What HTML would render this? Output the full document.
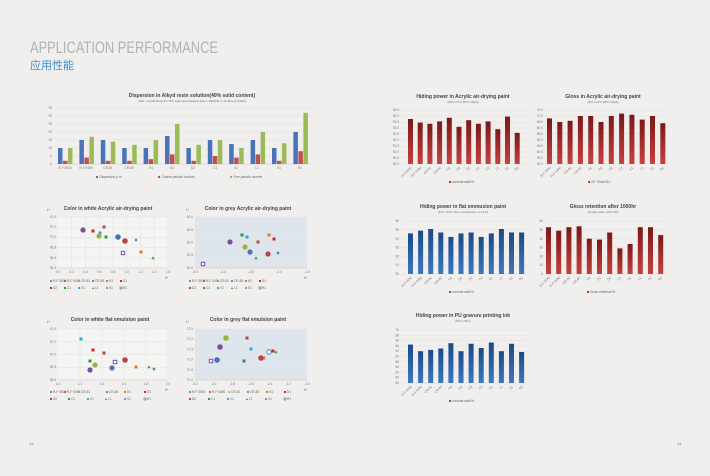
<!DOCTYPE html>
<html><head><meta charset="utf-8"><style>
html,body{margin:0;padding:0;background:#f0efed;}
svg{display:block;font-family:"Liberation Sans","Noto Sans CJK SC",sans-serif;}
.t{font-size:5px;font-weight:bold;fill:#444;text-anchor:middle}
.s{font-size:3px;fill:#666;text-anchor:middle;font-family:"Liberation Serif",serif}
.a{font-size:3.2px;fill:#777;text-anchor:end}
.x{font-size:3.2px;fill:#777;text-anchor:middle}
.l{font-size:3.2px;fill:#666}
.g{stroke:#dcdcdc;stroke-width:0.4}
</style></head><body>
<svg width="710" height="476" viewBox="0 0 710 476" xmlns="http://www.w3.org/2000/svg">
<defs>
<linearGradient id="rg" x1="0" y1="0" x2="0" y2="1"><stop offset="0" stop-color="#c8403c"/><stop offset="1" stop-color="#7a1818"/></linearGradient>
<linearGradient id="bg" x1="0" y1="0" x2="0" y2="1"><stop offset="0" stop-color="#3a78bf"/><stop offset="1" stop-color="#1c4a85"/></linearGradient>
</defs>
<rect width="710" height="476" fill="#f0efed"/>
<text x="30" y="53" font-size="17" fill="#b2b2b2" textLength="188" lengthAdjust="spacingAndGlyphs">APPLICATION PERFORMANCE</text>
<text x="30" y="69" font-size="11" fill="#3a8fd0">应用性能</text>
<text x="29" y="445" font-size="4" fill="#777">13</text>
<text x="677" y="445" font-size="4" fill="#777">14</text>

<!-- Dispersion chart -->
<text class="t" x="192" y="97" font-size="5.5">Dispersion in Alkyd resin solution(40% solid content)</text>
<text class="s" x="192" y="102">(TiO₂ concentration: 65~76%, high-speed disperse mixer: 4000rpm or 10.5m/s @ 10min)</text>
<g class="g">
<line x1="55" x2="312" y1="108" y2="108"/><line x1="55" x2="312" y1="116" y2="116"/><line x1="55" x2="312" y1="124" y2="124"/><line x1="55" x2="312" y1="132" y2="132"/><line x1="55" x2="312" y1="140" y2="140"/><line x1="55" x2="312" y1="148" y2="148"/><line x1="55" x2="312" y1="156" y2="156"/><line x1="55" x2="312" y1="164" y2="164" stroke="#bbb"/>
</g>
<g class="a"><text x="52" y="109">35</text><text x="52" y="117">30</text><text x="52" y="125">25</text><text x="52" y="133">20</text><text x="52" y="141">15</text><text x="52" y="149">10</text><text x="52" y="157">5</text><text x="52" y="165">0</text></g>
<g transform="translate(0,164) scale(1,-1)">
<g fill="#4a72b8"><rect x="58" width="4.5" height="16"/><rect x="79.4" width="4.5" height="24"/><rect x="100.8" width="4.5" height="24"/><rect x="122.2" width="4.5" height="16"/><rect x="143.6" width="4.5" height="16"/><rect x="165" width="4.5" height="28"/><rect x="186.4" width="4.5" height="16"/><rect x="207.8" width="4.5" height="24"/><rect x="229.2" width="4.5" height="20"/><rect x="250.6" width="4.5" height="24"/><rect x="272" width="4.5" height="16"/><rect x="293.4" width="4.5" height="32"/></g>
<g fill="#c0504d"><rect x="63" width="4.5" height="3.2"/><rect x="84.4" width="4.5" height="6.4"/><rect x="105.8" width="4.5" height="3.2"/><rect x="127.2" width="4.5" height="3.2"/><rect x="148.6" width="4.5" height="4.8"/><rect x="170" width="4.5" height="9.6"/><rect x="191.4" width="4.5" height="3.2"/><rect x="212.8" width="4.5" height="8"/><rect x="234.2" width="4.5" height="6.4"/><rect x="255.6" width="4.5" height="9.6"/><rect x="277" width="4.5" height="3.2"/><rect x="298.4" width="4.5" height="12.8"/></g>
<g fill="#9bbb59"><rect x="68" width="4.5" height="16"/><rect x="89.4" width="4.5" height="27.2"/><rect x="110.8" width="4.5" height="22.4"/><rect x="132.2" width="4.5" height="19.2"/><rect x="153.6" width="4.5" height="24"/><rect x="175" width="4.5" height="40"/><rect x="196.4" width="4.5" height="19.2"/><rect x="217.8" width="4.5" height="24"/><rect x="239.2" width="4.5" height="16"/><rect x="260.6" width="4.5" height="32"/><rect x="282" width="4.5" height="20.8"/><rect x="303.4" width="4.5" height="51.2"/></g>
</g>
<g class="x"><text x="65" y="169">R-F 5500</text><text x="86" y="169">R-F 5490</text><text x="108" y="169">CR-81</text><text x="129" y="169">CR-85</text><text x="151" y="169">H1</text><text x="172" y="169">D1</text><text x="193" y="169">D2</text><text x="215" y="169">C1</text><text x="236" y="169">X1</text><text x="257" y="169">L1</text><text x="279" y="169">S1</text><text x="300" y="169">R1</text></g>
<rect x="96" y="176" width="2" height="2" fill="#4a72b8"/><text class="l" x="99.5" y="178">Dispersion/ μ m</text>
<rect x="158" y="176" width="2" height="2" fill="#c0504d"/><text class="l" x="161.5" y="178">Coarse particle number</text>
<rect x="230" y="176" width="2" height="2" fill="#9bbb59"/><text class="l" x="233.5" y="178">Fine particle number</text>

<!-- Scatter: white acrylic -->
<text class="t" x="108" y="210" font-size="4.6">Color in white Acrylic air-drying paint</text>
<rect x="58" y="217" width="110" height="51" fill="#f4f4f2"/>
<g class="g"><line x1="58" x2="168" y1="217" y2="217"/><line x1="58" x2="168" y1="227.2" y2="227.2"/><line x1="58" x2="168" y1="237.4" y2="237.4"/><line x1="58" x2="168" y1="247.6" y2="247.6"/><line x1="58" x2="168" y1="257.8" y2="257.8"/><line x1="58" x2="168" y1="268" y2="268" stroke="#bbb"/>
<line x1="71.75" x2="71.75" y1="217" y2="268"/><line x1="85.5" x2="85.5" y1="217" y2="268"/><line x1="99.25" x2="99.25" y1="217" y2="268"/><line x1="113" x2="113" y1="217" y2="268"/><line x1="126.75" x2="126.75" y1="217" y2="268"/><line x1="140.5" x2="140.5" y1="217" y2="268"/><line x1="154.25" x2="154.25" y1="217" y2="268"/><line x1="168" x2="168" y1="217" y2="268"/></g>
<text class="l" x="47" y="211">L*</text>
<g class="a"><text x="56" y="218">97.4</text><text x="56" y="228">97.2</text><text x="56" y="238">97.0</text><text x="56" y="248.5">96.8</text><text x="56" y="259">96.6</text><text x="56" y="269">96.4</text></g>
<g class="x"><text x="58" y="273">0.0</text><text x="71.75" y="273">0.2</text><text x="85.5" y="273">0.4</text><text x="99.25" y="273">0.6</text><text x="113" y="273">0.8</text><text x="126.75" y="273">1.0</text><text x="140.5" y="273">1.2</text><text x="154.25" y="273">1.4</text><text x="168" y="273">1.6</text></g>
<text class="l" x="165" y="279">b*</text>
<circle cx="83" cy="230" r="2.6" fill="#7a4ea0"/><rect x="91.5" y="229.5" width="3" height="3" fill="#e02020"/><rect x="102.5" y="225.5" width="3" height="3" fill="#b84444"/><rect x="98.5" y="231.5" width="3" height="3" fill="#2aa8e0"/><circle cx="99" cy="236" r="2.6" fill="#9bb040"/><rect x="104.5" y="235.5" width="3" height="3" fill="#2a9a40"/><circle cx="118" cy="237" r="2.8" fill="#4a72b8"/><circle cx="125" cy="241" r="2.8" fill="#b84444"/><path d="M136 238.3L137.7 240L136 241.7L134.3 240Z" fill="#4a80c8"/><rect x="121.3" y="251.3" width="3.4" height="3.4" fill="#fff" stroke="#7a4ea0" stroke-width="1"/><rect x="139.5" y="250.5" width="3" height="3" fill="#e07a20"/><path d="M153 256.3L154.7 259.3L151.3 259.3Z" fill="#3aa84a"/>

<!-- Scatter: grey acrylic -->
<text class="t" x="248" y="210" font-size="4.6">Color in grey Acrylic air-drying paint</text>
<rect x="195" y="217" width="112" height="51" fill="#dfe5ec"/>
<g class="g" stroke="#cfd6de"><line x1="195" x2="307" y1="217" y2="217"/><line x1="195" x2="307" y1="229.75" y2="229.75"/><line x1="195" x2="307" y1="242.5" y2="242.5"/><line x1="195" x2="307" y1="255.25" y2="255.25"/><line x1="195" x2="307" y1="268" y2="268" stroke="#bbb"/></g>
<text class="l" x="186" y="211">L*</text>
<g class="a"><text x="193" y="218">64.0</text><text x="193" y="231">63.5</text><text x="193" y="243.5">63.0</text><text x="193" y="256">62.5</text><text x="193" y="269">62.0</text></g>
<g class="x"><text x="195" y="273">-3.5</text><text x="223" y="273">-3.0</text><text x="251" y="273">-2.5</text><text x="279" y="273">-2.0</text><text x="307" y="273">-1.5</text></g>
<text class="l" x="304" y="279">b*</text>
<rect x="201.3" y="262.3" width="3.4" height="3.4" fill="#fff" stroke="#7a4ea0" stroke-width="1"/><circle cx="230" cy="242" r="2.6" fill="#7a4ea0"/><rect x="240.5" y="233.5" width="3" height="3" fill="#2a9a40"/><rect x="245.5" y="235.5" width="3" height="3" fill="#2aa8e0"/><circle cx="245" cy="247" r="2.6" fill="#9bb040"/><circle cx="250" cy="252" r="2.6" fill="#4a72b8"/><path d="M256 256.3L257.7 259.3L254.3 259.3Z" fill="#3aa84a"/><rect x="256.5" y="240.5" width="3" height="3" fill="#b84444"/><rect x="267.5" y="233.5" width="3" height="3" fill="#e07a20"/><rect x="272.5" y="237.5" width="3" height="3" fill="#e02020"/><circle cx="268" cy="254" r="2.6" fill="#b84444"/><path d="M278 251.3L279.7 253L278 254.7L276.3 253Z" fill="#4a80c8"/>

<!-- legends acrylic -->
<g class="l">
<circle cx="51" cy="281" r="1" fill="#4a72b8"/><text x="53" y="282">R-F 5500</text>
<circle cx="65" cy="281" r="1" fill="#b84444"/><text x="67" y="282">R-F 5490</text>
<circle cx="79" cy="281" r="1" fill="#9bb040"/><text x="81" y="282">CR-81</text>
<circle cx="93" cy="281" r="1" fill="#7a4ea0"/><text x="95" y="282">CR-85</text>
<rect x="106" y="280" width="2" height="2" fill="#e07a20"/><text x="109" y="282">H1</text>
<rect x="120" y="280" width="2" height="2" fill="#e02020"/><text x="123" y="282">D1</text>
<rect x="50" y="287" width="2" height="2" fill="#b84444"/><text x="53" y="289">D2</text>
<rect x="64" y="287" width="2" height="2" fill="#2a9a40"/><text x="67" y="289">C1</text>
<rect x="78" y="287" width="2" height="2" fill="#2aa8e0"/><text x="81" y="289">X1</text>
<path d="M93 287L94.2 289L91.8 289Z" fill="#3aa84a"/><text x="95" y="289">L1</text>
<circle cx="107" cy="288" r="1" fill="#4a80c8"/><text x="109" y="289">S1</text>
<rect x="120" y="287" width="2" height="2" fill="none" stroke="#7a4ea0" stroke-width="0.6"/><text x="123" y="289">R1</text>
<circle cx="190" cy="281" r="1" fill="#4a72b8"/><text x="192" y="282">R-F 5500</text>
<circle cx="204" cy="281" r="1" fill="#b84444"/><text x="206" y="282">R-F 5490</text>
<circle cx="218" cy="281" r="1" fill="#9bb040"/><text x="220" y="282">CR-81</text>
<circle cx="232" cy="281" r="1" fill="#7a4ea0"/><text x="234" y="282">CR-85</text>
<rect x="245" y="280" width="2" height="2" fill="#e07a20"/><text x="248" y="282">H1</text>
<rect x="259" y="280" width="2" height="2" fill="#e02020"/><text x="262" y="282">D1</text>
<rect x="189" y="287" width="2" height="2" fill="#b84444"/><text x="192" y="289">D2</text>
<rect x="203" y="287" width="2" height="2" fill="#2a9a40"/><text x="206" y="289">C1</text>
<rect x="217" y="287" width="2" height="2" fill="#2aa8e0"/><text x="220" y="289">X1</text>
<path d="M232 287L233.2 289L230.8 289Z" fill="#3aa84a"/><text x="234" y="289">L1</text>
<circle cx="246" cy="288" r="1" fill="#4a80c8"/><text x="248" y="289">S1</text>
<rect x="259" y="287" width="2" height="2" fill="none" stroke="#7a4ea0" stroke-width="0.6"/><text x="262" y="289">R1</text>
</g>

<!-- Scatter: white flat -->
<text class="t" x="110" y="321" font-size="4.6">Color in white flat emulsion paint</text>
<rect x="58" y="329" width="110" height="51" fill="#f4f4f2"/>
<g class="g"><line x1="58" x2="168" y1="329" y2="329"/><line x1="58" x2="168" y1="341.75" y2="341.75"/><line x1="58" x2="168" y1="354.5" y2="354.5"/><line x1="58" x2="168" y1="367.25" y2="367.25"/><line x1="58" x2="168" y1="380" y2="380" stroke="#bbb"/>
<line x1="80" x2="80" y1="329" y2="380"/><line x1="102" x2="102" y1="329" y2="380"/><line x1="124" x2="124" y1="329" y2="380"/><line x1="146" x2="146" y1="329" y2="380"/><line x1="168" x2="168" y1="329" y2="380"/></g>
<text class="l" x="47" y="323">L*</text>
<g class="a"><text x="56" y="330">97.4</text><text x="56" y="343">97.2</text><text x="56" y="355.5">97.0</text><text x="56" y="368">96.8</text><text x="56" y="381">96.6</text></g>
<g class="x"><text x="58" y="385">1.0</text><text x="80" y="385">1.2</text><text x="102" y="385">1.4</text><text x="124" y="385">1.6</text><text x="146" y="385">1.8</text><text x="168" y="385">2.0</text></g>
<text class="l" x="165" y="391">b*</text>
<rect x="79.5" y="337.5" width="3" height="3" fill="#2aa8e0"/><rect x="91.5" y="348.5" width="3" height="3" fill="#e02020"/><rect x="102.5" y="351.5" width="3" height="3" fill="#b84444"/><rect x="88.5" y="359.5" width="3" height="3" fill="#2a9a40"/><circle cx="95" cy="365" r="2.6" fill="#9bb040"/><circle cx="90" cy="370" r="2.6" fill="#7a4ea0"/><rect x="113.3" y="360.3" width="3.4" height="3.4" fill="#fff" stroke="#7a4ea0" stroke-width="1"/><circle cx="125" cy="360" r="2.8" fill="#b84444"/><circle cx="112" cy="368" r="2.6" fill="#4a72b8"/><rect x="134.5" y="365.5" width="3" height="3" fill="#e07a20"/><path d="M149 365.3L150.7 368.3L147.3 368.3Z" fill="#3aa84a"/><path d="M154 367.3L155.7 369L154 370.7L152.3 369Z" fill="#4a80c8"/>

<!-- Scatter: grey flat -->
<text class="t" x="248" y="321" font-size="4.6">Color in grey flat emulsion paint</text>
<rect x="195" y="329" width="112" height="51" fill="#dfe5ec"/>
<g class="g" stroke="#cfd6de"><line x1="195" x2="307" y1="329" y2="329"/><line x1="195" x2="307" y1="339.2" y2="339.2"/><line x1="195" x2="307" y1="349.4" y2="349.4"/><line x1="195" x2="307" y1="359.6" y2="359.6"/><line x1="195" x2="307" y1="369.8" y2="369.8"/><line x1="195" x2="307" y1="380" y2="380" stroke="#bbb"/></g>
<text class="l" x="186" y="323">L*</text>
<g class="a"><text x="193" y="330">72.5</text><text x="193" y="340">72.0</text><text x="193" y="350.5">71.5</text><text x="193" y="360.5">71.0</text><text x="193" y="371">70.5</text><text x="193" y="381">70.0</text></g>
<g class="x"><text x="195" y="385">-3.2</text><text x="213.7" y="385">-3.0</text><text x="232.3" y="385">-2.8</text><text x="251" y="385">-2.6</text><text x="269.7" y="385">-2.4</text><text x="288.3" y="385">-2.2</text><text x="307" y="385">-2.0</text></g>
<text class="l" x="304" y="391">b*</text>
<circle cx="226" cy="338" r="2.8" fill="#9bb040"/><rect x="245.5" y="336.5" width="3" height="3" fill="#b84444"/><circle cx="220" cy="347" r="2.8" fill="#7a4ea0"/><rect x="249.5" y="347.5" width="3" height="3" fill="#2aa8e0"/><circle cx="269" cy="352" r="2.2" fill="#fff" stroke="#4a80c8" stroke-width="1"/><rect x="271.5" y="349.5" width="3" height="3" fill="#e02020"/><path d="M276 350.3L277.7 353.3L274.3 353.3Z" fill="#3aa84a"/><rect x="262.5" y="356.5" width="3" height="3" fill="#e07a20"/><circle cx="261" cy="358" r="2.8" fill="#b84444"/><rect x="242.5" y="359.5" width="3" height="3" fill="#2a9a40"/><circle cx="217" cy="360" r="2.8" fill="#4a72b8"/><rect x="209.3" y="359.3" width="3.4" height="3.4" fill="#fff" stroke="#7a4ea0" stroke-width="1"/>

<g class="l">
<circle cx="51" cy="392" r="1" fill="#4a72b8"/><text x="53" y="393">R-F 5500</text>
<circle cx="65" cy="392" r="1" fill="#b84444"/><text x="67" y="393">R-F 5490</text>
<circle cx="79" cy="392" r="1" fill="#9bb040"/><text x="81" y="393">CR-81</text>
<circle cx="107" cy="392" r="1" fill="#7a4ea0"/><text x="109" y="393">CR-85</text>
<rect x="124" y="391" width="2" height="2" fill="#e07a20"/><text x="127" y="393">H1</text>
<rect x="144" y="391" width="2" height="2" fill="#e02020"/><text x="147" y="393">D1</text>
<rect x="50" y="398" width="2" height="2" fill="#b84444"/><text x="53" y="400">D2</text>
<rect x="68" y="398" width="2" height="2" fill="#2a9a40"/><text x="71" y="400">C1</text>
<rect x="87" y="398" width="2" height="2" fill="#2aa8e0"/><text x="90" y="400">X1</text>
<path d="M106 398L107.2 400L104.8 400Z" fill="#3aa84a"/><text x="108" y="400">L1</text>
<circle cx="125" cy="399" r="1" fill="#4a80c8"/><text x="127" y="400">S1</text>
<rect x="144" y="398" width="2" height="2" fill="none" stroke="#7a4ea0" stroke-width="0.6"/><text x="147" y="400">R1</text>
<circle cx="190" cy="392" r="1" fill="#4a72b8"/><text x="192" y="393">R-F 5500</text>
<circle cx="210" cy="392" r="1" fill="#b84444"/><text x="212" y="393">R-F 5490</text>
<circle cx="229" cy="392" r="1" fill="#9bb040"/><text x="231" y="393">CR-81</text>
<circle cx="248" cy="392" r="1" fill="#7a4ea0"/><text x="250" y="393">CR-85</text>
<rect x="266" y="391" width="2" height="2" fill="#e07a20"/><text x="269" y="393">H1</text>
<rect x="284" y="391" width="2" height="2" fill="#e02020"/><text x="287" y="393">D1</text>
<rect x="189" y="398" width="2" height="2" fill="#b84444"/><text x="192" y="400">D2</text>
<rect x="208" y="398" width="2" height="2" fill="#2a9a40"/><text x="211" y="400">C1</text>
<rect x="227" y="398" width="2" height="2" fill="#2aa8e0"/><text x="230" y="400">X1</text>
<path d="M247 398L248.2 400L245.8 400Z" fill="#3aa84a"/><text x="249" y="400">L1</text>
<circle cx="266" cy="399" r="1" fill="#4a80c8"/><text x="268" y="400">S1</text>
<rect x="284" y="398" width="2" height="2" fill="none" stroke="#7a4ea0" stroke-width="0.6"/><text x="287" y="400">R1</text>
</g>

<!-- Right page: Hiding acrylic -->
<text class="t" x="463" y="98">Hiding power in Acrylic air-drying paint</text>
<text class="s" x="463" y="103">(PVC=15%, DFT=18μm)</text>
<g class="g"><line x1="401" x2="527" y1="110" y2="110"/><line x1="401" x2="527" y1="116" y2="116"/><line x1="401" x2="527" y1="122" y2="122"/><line x1="401" x2="527" y1="128" y2="128"/><line x1="401" x2="527" y1="134" y2="134"/><line x1="401" x2="527" y1="140" y2="140"/><line x1="401" x2="527" y1="146" y2="146"/><line x1="401" x2="527" y1="152" y2="152"/><line x1="401" x2="527" y1="158" y2="158"/><line x1="401" x2="527" y1="164" y2="164"/></g>
<g class="a"><text x="399" y="111">94.5</text><text x="399" y="117">94.0</text><text x="399" y="123">93.5</text><text x="399" y="129">93.0</text><text x="399" y="135">92.5</text><text x="399" y="141">92.0</text><text x="399" y="147">91.5</text><text x="399" y="153">91.0</text><text x="399" y="159">90.5</text><text x="399" y="165">90.0</text></g>
<g transform="translate(0,164) scale(1,-1)" fill="url(#rg)"><rect x="408" width="5" height="45"/><rect x="417.7" width="5" height="41.4"/><rect x="427.4" width="5" height="40.2"/><rect x="437.1" width="5" height="42.6"/><rect x="446.8" width="5" height="46.2"/><rect x="456.5" width="5" height="37.2"/><rect x="466.2" width="5" height="43.8"/><rect x="475.9" width="5" height="40.2"/><rect x="485.6" width="5" height="42.6"/><rect x="495.3" width="5" height="34.8"/><rect x="505" width="5" height="47.4"/><rect x="514.7" width="5" height="31.2"/></g>
<g class="x" style="text-anchor:end"><text transform="translate(412,168) rotate(-45)">R-F 5500</text><text transform="translate(421.7,168) rotate(-45)">R-F 5490</text><text transform="translate(431.4,168) rotate(-45)">CR-81</text><text transform="translate(441.1,168) rotate(-45)">CR-85</text><text transform="translate(450.8,168) rotate(-45)">H1</text><text transform="translate(460.5,168) rotate(-45)">D1</text><text transform="translate(470.2,168) rotate(-45)">D2</text><text transform="translate(479.9,168) rotate(-45)">C1</text><text transform="translate(489.6,168) rotate(-45)">X1</text><text transform="translate(499.3,168) rotate(-45)">L1</text><text transform="translate(509,168) rotate(-45)">S1</text><text transform="translate(518.7,168) rotate(-45)">R1</text></g>
<rect x="449" y="181" width="2" height="2" fill="#c0302c"/><text class="l" x="452" y="183">contrast ratio/%</text>

<!-- Gloss acrylic -->
<text class="t" x="603" y="98">Gloss in Acrylic air-drying paint</text>
<text class="s" x="603" y="103">(PVC=15%, DFT=25μm)</text>
<g class="g"><line x1="545" x2="667" y1="110" y2="110"/><line x1="545" x2="667" y1="116" y2="116"/><line x1="545" x2="667" y1="122" y2="122"/><line x1="545" x2="667" y1="128" y2="128"/><line x1="545" x2="667" y1="134" y2="134"/><line x1="545" x2="667" y1="140" y2="140"/><line x1="545" x2="667" y1="146" y2="146"/><line x1="545" x2="667" y1="152" y2="152"/><line x1="545" x2="667" y1="158" y2="158"/><line x1="545" x2="667" y1="164" y2="164"/></g>
<g class="a"><text x="543" y="111">75.0</text><text x="543" y="117">70.0</text><text x="543" y="123">65.0</text><text x="543" y="129">60.0</text><text x="543" y="135">55.0</text><text x="543" y="141">50.0</text><text x="543" y="147">45.0</text><text x="543" y="153">40.0</text><text x="543" y="159">35.0</text><text x="543" y="165">30.0</text></g>
<g transform="translate(0,164) scale(1,-1)" fill="url(#rg)"><rect x="547" width="5" height="45.6"/><rect x="557.3" width="5" height="42"/><rect x="567.6" width="5" height="43.2"/><rect x="577.9" width="5" height="48"/><rect x="588.2" width="5" height="48"/><rect x="598.5" width="5" height="42"/><rect x="608.8" width="5" height="48"/><rect x="619.1" width="5" height="50.4"/><rect x="629.4" width="5" height="49.2"/><rect x="639.7" width="5" height="44.4"/><rect x="650" width="5" height="48"/><rect x="660.3" width="5" height="40.8"/></g>
<g class="x" style="text-anchor:end"><text transform="translate(551,168) rotate(-45)">R-F 5500</text><text transform="translate(561.3,168) rotate(-45)">R-F 5490</text><text transform="translate(571.6,168) rotate(-45)">CR-81</text><text transform="translate(581.9,168) rotate(-45)">CR-85</text><text transform="translate(592.2,168) rotate(-45)">H1</text><text transform="translate(602.5,168) rotate(-45)">D1</text><text transform="translate(612.8,168) rotate(-45)">D2</text><text transform="translate(623.1,168) rotate(-45)">C1</text><text transform="translate(633.4,168) rotate(-45)">X1</text><text transform="translate(643.7,168) rotate(-45)">L1</text><text transform="translate(654,168) rotate(-45)">S1</text><text transform="translate(664.3,168) rotate(-45)">R1</text></g>
<rect x="588" y="181" width="2" height="2" fill="#c0302c"/><text class="l" x="591" y="183">20° Gloss/GU</text>

<!-- Hiding flat emulsion -->
<text class="t" x="463" y="208">Hiding power in flat emmusion paint</text>
<text class="s" x="463" y="213">(PVC=50%, TiO₂ concentration =13.4%)</text>
<g class="g"><line x1="401" x2="527" y1="221" y2="221"/><line x1="401" x2="527" y1="229.8" y2="229.8"/><line x1="401" x2="527" y1="238.7" y2="238.7"/><line x1="401" x2="527" y1="247.5" y2="247.5"/><line x1="401" x2="527" y1="256.3" y2="256.3"/><line x1="401" x2="527" y1="265.2" y2="265.2"/><line x1="401" x2="527" y1="274" y2="274"/></g>
<g class="a"><text x="399" y="222">96</text><text x="399" y="231">95</text><text x="399" y="240">94</text><text x="399" y="248.5">93</text><text x="399" y="257.5">92</text><text x="399" y="266">91</text><text x="399" y="275">90</text></g>
<g transform="translate(0,274) scale(1,-1)" fill="url(#bg)"><rect x="408" width="5" height="40.6"/><rect x="418.1" width="5" height="43.3"/><rect x="428.2" width="5" height="45"/><rect x="438.3" width="5" height="41.5"/><rect x="448.4" width="5" height="37.1"/><rect x="458.5" width="5" height="40.6"/><rect x="468.6" width="5" height="41.5"/><rect x="478.7" width="5" height="37.1"/><rect x="488.8" width="5" height="40.6"/><rect x="498.9" width="5" height="45"/><rect x="509" width="5" height="41.5"/><rect x="519.1" width="5" height="41.5"/></g>
<g class="x" style="text-anchor:end"><text transform="translate(412,278) rotate(-45)">R-F 5500</text><text transform="translate(422.1,278) rotate(-45)">R-F 5490</text><text transform="translate(432.2,278) rotate(-45)">CR-81</text><text transform="translate(442.3,278) rotate(-45)">CR-85</text><text transform="translate(452.4,278) rotate(-45)">H1</text><text transform="translate(462.5,278) rotate(-45)">D1</text><text transform="translate(472.6,278) rotate(-45)">D2</text><text transform="translate(482.7,278) rotate(-45)">C1</text><text transform="translate(492.8,278) rotate(-45)">X1</text><text transform="translate(502.9,278) rotate(-45)">L1</text><text transform="translate(513,278) rotate(-45)">S1</text><text transform="translate(523.1,278) rotate(-45)">R1</text></g>
<rect x="449" y="291" width="2" height="2" fill="#2e6db0"/><text class="l" x="452" y="293">contrast ratio/%</text>

<!-- Gloss retention -->
<text class="t" x="603" y="208">Gloss retention after 1000hr</text>
<text class="s" x="603" y="213">(Acrylic paint, UVA-340)</text>
<g class="g"><line x1="545" x2="667" y1="221" y2="221"/><line x1="545" x2="667" y1="229.8" y2="229.8"/><line x1="545" x2="667" y1="238.7" y2="238.7"/><line x1="545" x2="667" y1="247.5" y2="247.5"/><line x1="545" x2="667" y1="256.3" y2="256.3"/><line x1="545" x2="667" y1="265.2" y2="265.2"/><line x1="545" x2="667" y1="274" y2="274"/></g>
<g class="a"><text x="543" y="222">60</text><text x="543" y="231">50</text><text x="543" y="240">40</text><text x="543" y="248.5">30</text><text x="543" y="257.5">20</text><text x="543" y="266">10</text><text x="543" y="275">0</text></g>
<g transform="translate(0,274) scale(1,-1)" fill="url(#rg)"><rect x="546" width="5" height="46.8"/><rect x="556.2" width="5" height="43.3"/><rect x="566.4" width="5" height="46.8"/><rect x="576.6" width="5" height="47.7"/><rect x="586.8" width="5" height="35.3"/><rect x="597" width="5" height="34.4"/><rect x="607.2" width="5" height="41.5"/><rect x="617.4" width="5" height="25.6"/><rect x="627.6" width="5" height="30"/><rect x="637.8" width="5" height="46.8"/><rect x="648" width="5" height="46.8"/><rect x="658.2" width="5" height="38.9"/></g>
<g class="x" style="text-anchor:end"><text transform="translate(550,278) rotate(-45)">R-F 5500</text><text transform="translate(560.2,278) rotate(-45)">R-F 5490</text><text transform="translate(570.4,278) rotate(-45)">CR-81</text><text transform="translate(580.6,278) rotate(-45)">CR-85</text><text transform="translate(590.8,278) rotate(-45)">H1</text><text transform="translate(601,278) rotate(-45)">D1</text><text transform="translate(611.2,278) rotate(-45)">D2</text><text transform="translate(621.4,278) rotate(-45)">C1</text><text transform="translate(631.6,278) rotate(-45)">X1</text><text transform="translate(641.8,278) rotate(-45)">L1</text><text transform="translate(652,278) rotate(-45)">S1</text><text transform="translate(662.2,278) rotate(-45)">R1</text></g>
<rect x="587" y="291" width="2" height="2" fill="#c0302c"/><text class="l" x="590" y="293">Gloss retention/%</text>

<!-- PU ink -->
<text class="t" x="463" y="317">Hiding power in PU gravure printing ink</text>
<text class="s" x="463" y="322">(PVC=20%)</text>
<g class="g"><line x1="401" x2="527" y1="330" y2="330"/><line x1="401" x2="527" y1="335.3" y2="335.3"/><line x1="401" x2="527" y1="340.6" y2="340.6"/><line x1="401" x2="527" y1="345.9" y2="345.9"/><line x1="401" x2="527" y1="351.2" y2="351.2"/><line x1="401" x2="527" y1="356.5" y2="356.5"/><line x1="401" x2="527" y1="361.8" y2="361.8"/><line x1="401" x2="527" y1="367.1" y2="367.1"/><line x1="401" x2="527" y1="372.4" y2="372.4"/><line x1="401" x2="527" y1="377.7" y2="377.7"/><line x1="401" x2="527" y1="383" y2="383"/></g>
<g class="a"><text x="399" y="331">70</text><text x="399" y="336.3">68</text><text x="399" y="341.6">66</text><text x="399" y="346.9">64</text><text x="399" y="352.2">62</text><text x="399" y="357.5">60</text><text x="399" y="362.8">58</text><text x="399" y="368.1">56</text><text x="399" y="373.4">54</text><text x="399" y="378.7">52</text><text x="399" y="384">50</text></g>
<g transform="translate(0,383) scale(1,-1)" fill="url(#bg)"><rect x="408" width="5" height="38.4"/><rect x="418.1" width="5" height="31.8"/><rect x="428.2" width="5" height="33.1"/><rect x="438.3" width="5" height="34.5"/><rect x="448.4" width="5" height="39.8"/><rect x="458.5" width="5" height="31.8"/><rect x="468.6" width="5" height="39.2"/><rect x="478.7" width="5" height="35"/><rect x="488.8" width="5" height="40.5"/><rect x="498.9" width="5" height="31.8"/><rect x="509" width="5" height="39.2"/><rect x="519.1" width="5" height="31"/></g>
<g class="x" style="text-anchor:end"><text transform="translate(412,387) rotate(-45)">R-F 5500</text><text transform="translate(422.1,387) rotate(-45)">R-F 5490</text><text transform="translate(432.2,387) rotate(-45)">CR-81</text><text transform="translate(442.3,387) rotate(-45)">CR-85</text><text transform="translate(452.4,387) rotate(-45)">H1</text><text transform="translate(462.5,387) rotate(-45)">D1</text><text transform="translate(472.6,387) rotate(-45)">D2</text><text transform="translate(482.7,387) rotate(-45)">C1</text><text transform="translate(492.8,387) rotate(-45)">X1</text><text transform="translate(502.9,387) rotate(-45)">L1</text><text transform="translate(513,387) rotate(-45)">S1</text><text transform="translate(523.1,387) rotate(-45)">R1</text></g>
<rect x="449" y="400" width="2" height="2" fill="#2e6db0"/><text class="l" x="452" y="402">contrast ratio/%</text>
</svg>
</body></html>
